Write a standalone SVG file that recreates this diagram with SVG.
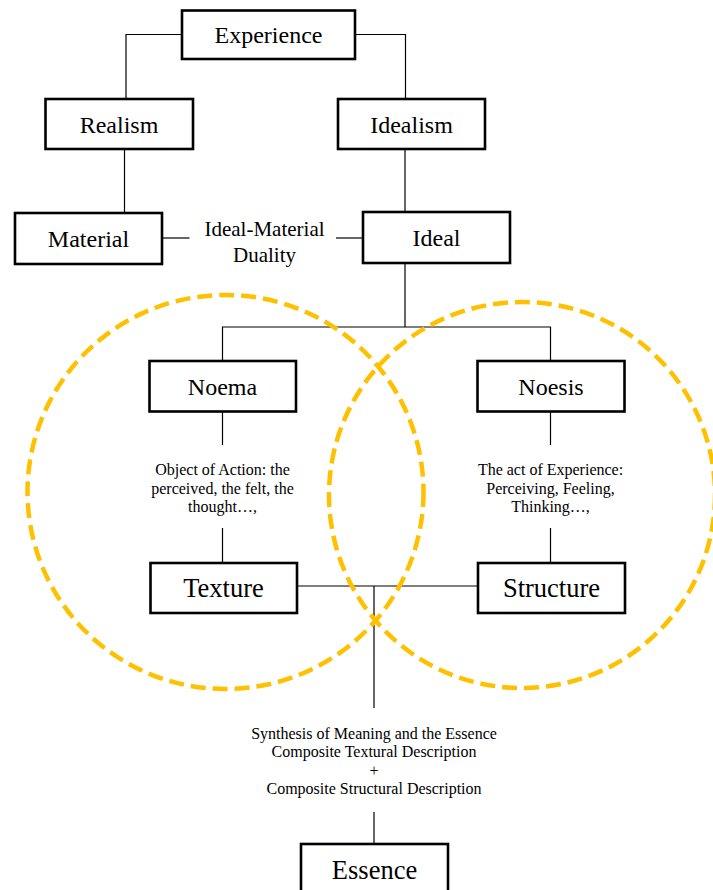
<svg xmlns="http://www.w3.org/2000/svg" width="713" height="890" viewBox="0 0 713 890">
<style>
.box{fill:#fff;stroke:#000;stroke-width:2.6}
.t{font-family:"Liberation Serif","Times New Roman",serif;fill:#000;text-anchor:middle}
.n{font-size:24px}
.nl{font-size:26.5px}
.lb{font-size:16px}
.conn{fill:none;stroke:#000;stroke-width:1.2}
.ring{fill:none;stroke:#FFC000;stroke-width:4.5;stroke-dasharray:15 7}
</style>
<rect width="713" height="890" fill="#fff"/>
<g id="connectors" class="conn">
<path d="M182,34.5 H126 V99"/>
<path d="M355,34.5 H405.5 V99"/>
<path d="M124.5,149 V213"/>
<path d="M405,149 V212"/>
<path d="M162,238 H189.5"/>
<path d="M336,238 H363"/>
<path d="M405,263 V327"/>
<path d="M222.5,361 V327 H550.5 V361"/>
<path d="M222.5,411.5 V445"/>
<path d="M222.5,528 V563"/>
<path d="M550.5,411.5 V445"/>
<path d="M550.5,528 V563"/>
<path d="M297,586 H478"/>
<path d="M374,586 V708"/>
<path d="M374,812 V844"/>
</g>
<g id="experience"><rect class="box" x="182" y="10.5" width="173" height="48.5"/><text class="t n" x="268.5" y="43">Experience</text></g>
<g id="realism"><rect class="box" x="45.5" y="99" width="147.5" height="50"/><text class="t n" x="119" y="132.5">Realism</text></g>
<g id="idealism"><rect class="box" x="338" y="99" width="147" height="50"/><text class="t n" x="411.5" y="132.5">Idealism</text></g>
<g id="material"><rect class="box" x="15" y="213" width="147" height="51"/><text class="t n" x="88.5" y="247">Material</text></g>
<g id="duality"><text class="t" style="font-size:21px" x="264.5" y="236">Ideal-Material</text><text class="t" style="font-size:21px" x="264.5" y="261.5">Duality</text></g>
<g id="ideal"><rect class="box" x="363" y="212" width="147" height="51"/><text class="t n" x="436.5" y="246">Ideal</text></g>
<g id="noema"><rect class="box" x="149.5" y="361" width="146.5" height="50.5"/><text class="t n" x="222.5" y="394.5">Noema</text></g>
<g id="noema-desc"><text class="t lb" x="222.5" y="475">Object of Action: the</text><text class="t lb" x="222.5" y="493.5">perceived, the felt, the</text><text class="t lb" x="222.5" y="512">thought…,</text></g>
<g id="noesis"><rect class="box" x="477.5" y="361" width="147" height="50.5"/><text class="t n" x="551" y="394.5">Noesis</text></g>
<g id="noesis-desc"><text class="t lb" x="550.5" y="475">The act of Experience:</text><text class="t lb" x="550.5" y="493.5">Perceiving, Feeling,</text><text class="t lb" x="550.5" y="512">Thinking…,</text></g>
<g id="texture"><rect class="box" x="150.5" y="563" width="146.5" height="50"/><text class="t nl" x="223.5" y="597">Texture</text></g>
<g id="structure"><rect class="box" x="478" y="563" width="147" height="50"/><text class="t nl" x="551.5" y="597">Structure</text></g>
<g id="synthesis"><text class="t lb" x="374" y="738.5">Synthesis of Meaning and the Essence</text><text class="t lb" x="374" y="757">Composite Textural Description</text><text class="t lb" x="374" y="775.5">+</text><text class="t lb" x="374" y="794">Composite Structural Description</text></g>
<g id="essence"><rect class="box" x="301" y="844" width="147" height="50"/><text class="t nl" x="374.5" y="879">Essence</text></g>
<g id="rings">
<ellipse class="ring" cx="225.5" cy="492" rx="198" ry="197"/>
<ellipse class="ring" cx="522" cy="495" rx="193" ry="193"/>
</g>
</svg>
